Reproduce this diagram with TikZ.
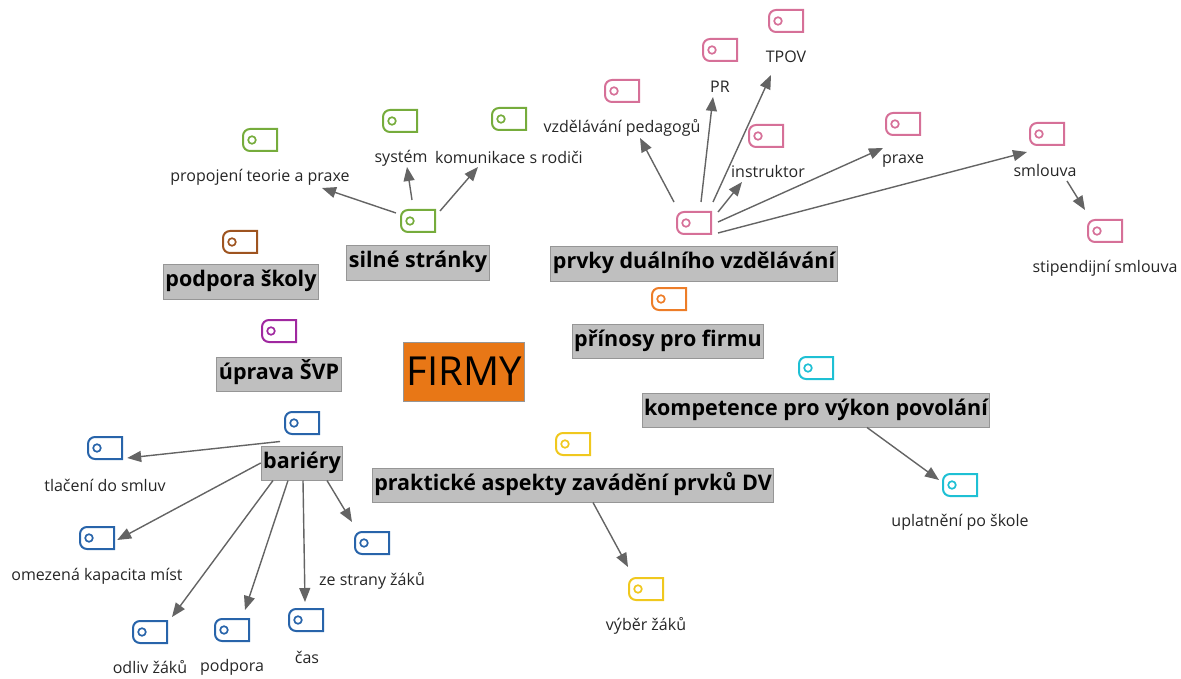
\documentclass[tikz,border=0pt]{standalone}
\usepackage{fontspec}
\setmainfont{Open Sans}
\usetikzlibrary{arrows.meta,calc}

\definecolor{cgreen}{RGB}{118,172,60}
\definecolor{cbrown}{RGB}{158,84,32}
\definecolor{cpurple}{RGB}{160,40,160}
\definecolor{cpink}{RGB}{214,112,152}
\definecolor{corange}{RGB}{237,125,40}
\definecolor{ccyan}{RGB}{30,192,212}
\definecolor{cyellow}{RGB}{240,200,30}
\definecolor{cblue}{RGB}{40,100,170}
\definecolor{firmfill}{RGB}{232,119,22}
\definecolor{boxgray}{RGB}{191,191,191}
\definecolor{boxedge}{RGB}{150,150,150}
\definecolor{arrgray}{RGB}{100,100,100}

\tikzset{
  pics/tag/.style={code={
    \node[minimum width=34pt,minimum height=22pt,inner sep=0pt] (-t) {};
    \draw[#1,line width=2pt,rounded corners=7pt] (0,-11) -- (-17,-11) -- (-17,11) -- (0,11) [sharp corners] -- (17,11) -- (17,-11) -- cycle;
    \draw[#1,line width=1.7pt] (-8,0) circle (3.8pt);
  }},
  topic/.style={fill=boxgray,draw=boxedge,line width=1pt,font=\bfseries\fontsize{21.5}{24}\selectfont,
    inner xsep=2pt,minimum height=34pt,text height=15pt,text depth=5pt},
  leaf/.style={font=\fontsize{16}{18}\selectfont,text=black!85,inner sep=1pt},
  arr/.style={draw=arrgray,line width=1.4pt,-{Triangle[length=14pt,width=11pt]}},
}

\begin{document}
\begin{tikzpicture}[x=1pt,y=-1pt]
    \useasboundingbox (0,0) rectangle (1181,679);

    % FIRMY
    \node[fill=firmfill,draw=boxedge,line width=1pt,minimum width=120pt,minimum height=59pt,
      font=\fontsize{40}{44}\selectfont] (firmy) at (464,371.5) {FIRMY};

    % silné stránky
    \node[topic] (sil) at (418,263) {silné stránky};
    \pic (silt) at (418,221) {tag=cgreen};
    \pic (prot) at (260,140) {tag=cgreen};
    \node[leaf] (pro) at (260,177) {propojení teorie a praxe};
    \pic (syst) at (400,121) {tag=cgreen};
    \node[leaf] (sys) at (401,158) {systém};
    \pic (komt) at (509,119) {tag=cgreen};
    \node[leaf] (kom) at (509,157) {komunikace s rodiči};
    \draw[arr] ([shift={(-22,-8)}]silt-t.center) -- ([shift={(62,11)}]pro.center);
    \draw[arr] ([shift={(-6,-21)}]silt-t.center) -- ([shift={(6,9)}]sys.center);
    \draw[arr] ([shift={(22,-10)}]silt-t.center) -- ([shift={(-31,10)}]kom.center);

    % podpora školy
    \pic (podt) at (240,242) {tag=cbrown};
    \node[topic] (pod) at (241,282) {podpora školy};

    % úprava ŠVP
    \pic (uprt) at (279,331) {tag=cpurple};
    \node[topic] (upr) at (279,374) {úprava ŠVP};

    % prvky duálního vzdělávání
    \node[topic] (prv) at (694,264) {prvky duálního vzdělávání};
    \pic (prvt) at (694,223) {tag=cpink};
    \pic (vzdt) at (622,91) {tag=cpink};
    \node[leaf] (vzd) at (622,128) {vzdělávání pedagogů};
    \pic (prt) at (720,50) {tag=cpink};
    \node[leaf] (pr) at (720,87) {PR};
    \pic (tpovt) at (786,21) {tag=cpink};
    \node[leaf] (tpov) at (786,57) {TPOV};
    \pic (inst) at (766,136) {tag=cpink};
    \node[leaf] (ins) at (768,172) {instruktor};
    \pic (prat) at (903,124) {tag=cpink};
    \node[leaf] (pra) at (903,161) {praxe};
    \pic (smlt) at (1047,134) {tag=cpink};
    \node[leaf] (sml) at (1045,171) {smlouva};
    \pic (stit) at (1105,231) {tag=cpink};
    \node[leaf] (sti) at (1105,268) {stipendijní smlouva};
    \draw[arr] ([shift={(-20,-21)}]prvt-t.center) -- ([shift={(18,10)}]vzd.center);
    \draw[arr] ([shift={(7,-21)}]prvt-t.center) -- ([shift={(-7,10)}]pr.center);
    \draw[arr] ([shift={(19,-21)}]prvt-t.center) -- ([shift={(-15,18)}]tpov.center);
    \draw[arr] ([shift={(24,-11)}]prvt-t.center) -- ([shift={(-26,10)}]ins.center);
    \draw[arr] ([shift={(24,-1)}]prvt-t.center) -- ([shift={(-20,-13)}]pra.center);
    \draw[arr] ([shift={(24,10)}]prvt-t.center) -- ([shift={(-18,-19)}]sml.center);
    \draw[arr] ([shift={(22,10)}]sml.center) -- ([shift={(-20,-21)}]stit-t.center);

    % přínosy pro firmu
    \pic (prit) at (669,299) {tag=corange};
    \node[topic] (pri) at (668,341) {přínosy pro firmu};

    % kompetence pro výkon povolání
    \pic (kompt) at (816,368) {tag=ccyan};
    \node[topic] (komp) at (816,410) {kompetence pro výkon povolání};
    \pic (uplt) at (960,485) {tag=ccyan};
    \node[leaf] (upl) at (960,522) {uplatnění po škole};
    \draw[arr] ([shift={(51,0)}]komp.south) -- ([shift={(-21,-5)}]uplt-t.center);

    % praktické aspekty
    \pic (prat2) at (573,444) {tag=cyellow};
    \node[topic] (pas) at (573,485) {praktické aspekty zavádění prvků DV};
    \pic (vybt) at (646,589) {tag=cyellow};
    \node[leaf] (vyb) at (646,626) {výběr žáků};
    \draw[arr] ([shift={(20,0)}]pas.south) -- ([shift={(-18,-22)}]vybt-t.center);

    % bariéry
    \pic (bart) at (302,423) {tag=cblue};
    \node[topic] (bar) at (302,463) {bariéry};
    \pic (tlat) at (105,448) {tag=cblue};
    \node[leaf] (tla) at (105,485) {tlačení do smluv};
    \pic (omet) at (97,538) {tag=cblue};
    \node[leaf] (ome) at (97,576) {omezená kapacita míst};
    \pic (odlt) at (150,632) {tag=cblue};
    \node[leaf] (odl) at (150,667) {odliv žáků};
    \pic (popt) at (232,630) {tag=cblue};
    \node[leaf] (pop) at (232,667) {podpora};
    \pic (cast) at (306,620) {tag=cblue};
    \node[leaf] (cas) at (307,657) {čas};
    \pic (zest) at (372,543) {tag=cblue};
    \node[leaf] (zes) at (372,581) {ze strany žáků};
    \draw[arr] ([shift={(-22,-4)}]bar.north) -- ([shift={(5,10)}]tlat-t.east);
    \draw[arr] (bar.west) -- ([shift={(3,2)}]omet-t.east);
    \draw[arr] ([shift={(-29,0)}]bar.south) -- ([shift={(22,-15)}]odlt-t.center);
    \draw[arr] ([shift={(-14,0)}]bar.south) -- ([shift={(13,-20)}]popt-t.center);
    \draw[arr] ([shift={(1,0)}]bar.south) -- ([shift={(-1,-18)}]cast-t.center);
    \draw[arr] ([shift={(25,0)}]bar.south) -- ([shift={(-20,-21)}]zest-t.center);

\end{tikzpicture}
\end{document}
